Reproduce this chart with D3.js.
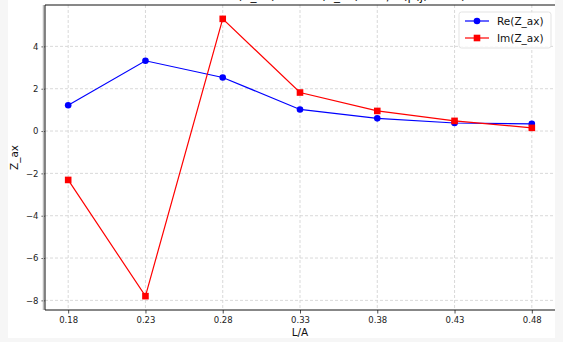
<!DOCTYPE html>
<html>
<head>
<meta charset="utf-8">
<script src="https://cdn.jsdelivr.net/npm/d3@7"></script>
<style>
  body { margin: 0; background: #f6f6f6; }
  svg { display: block; font-family: "DejaVu Sans", sans-serif; }
</style>
</head>
<body>
<div class="viz"></div>
<script>
const ratios = [0.18, 0.23, 0.28, 0.33, 0.38, 0.43, 0.48];
const reZ = [1.22, 3.32, 2.53, 1.02, 0.6, 0.38, 0.34];
const imZ = [-2.31, -7.8, 5.3, 1.82, 0.95, 0.48, 0.15];
const xTicks = ["0.18", "0.23", "0.28", "0.33", "0.38", "0.43", "0.48"];
const yTicks = [-8, -6, -4, -2, 0, 2, 4];
const seriesNames = ["Re(Z_ax)", "Im(Z_ax)"];

var w = 563
var h = 342
// plot box (names avoid window.top)
var pLeft = 45, pRight = 555, pTop = 5, pBottom = 310

// matplotlib style 5% margins
var xmin = d3.min(ratios), xmax = d3.max(ratios)
var xpad = (xmax - xmin) * 0.05
var x = d3.scaleLinear()
  .domain([xmin - xpad, xmax + xpad])
  .range([pLeft, pRight])

var ymin = d3.min(imZ.concat(reZ)), ymax = d3.max(imZ.concat(reZ))
var ypad = (ymax - ymin) * 0.05
var y = d3.scaleLinear()
  .domain([ymin - ypad, ymax + ypad])
  .range([pBottom, pTop])

const svg = d3.select(".viz")
  .append("svg")
  .attr("width", w)
  .attr("height", h)

// white figure area
svg.append("rect")
  .attr("x", 8).attr("y", 0)
  .attr("width", pRight - 8).attr("height", 338)
  .attr("fill", "white")

// title, mostly cut off above the window
svg.append("text")
  .attr("x", 344)
  .attr("y", -0.5)
  .attr("text-anchor", "middle")
  .attr("font-size", 12)
  .attr("fill", "#111")
  .text("Re(Z_ax) and Im(Z_ax) vs L/A (p(j) fixed)")

// grid
svg.append("g").selectAll("line")
  .data(ratios)
  .enter().append("line")
  .attr("x1", d => x(d)).attr("x2", d => x(d))
  .attr("y1", pTop).attr("y2", pBottom)
  .attr("stroke", "#cfcfcf").attr("stroke-dasharray", "3,2").attr("stroke-width", 0.8)
svg.append("g").selectAll("line")
  .data(yTicks)
  .enter().append("line")
  .attr("x1", pLeft).attr("x2", pRight)
  .attr("y1", d => y(d)).attr("y2", d => y(d))
  .attr("stroke", "#cfcfcf").attr("stroke-dasharray", "3,2").attr("stroke-width", 0.8)

// axes
var xAxis = d3.axisBottom(x)
  .tickValues(ratios)
  .tickFormat((d, i) => xTicks[i])
  .tickSize(3.5).tickPadding(3.5)
var gx = svg.append("g")
  .attr("transform", "translate(0," + pBottom + ")")
  .call(xAxis)
gx.select(".domain").remove()

var yAxis = d3.axisLeft(y)
  .tickValues(yTicks)
  .tickFormat(d => d < 0 ? "\u2212" + Math.abs(d) : d)
  .tickSize(3.5).tickPadding(3)
var gy = svg.append("g")
  .attr("transform", "translate(" + pLeft + ",0)")
  .call(yAxis)
gy.select(".domain").remove()

svg.selectAll(".tick text").attr("font-size", 8.5).attr("fill", "#222").attr("font-family", "DejaVu Sans")
svg.selectAll(".tick line").attr("stroke", "#222").attr("stroke-width", 0.8)

// spines (right one is cropped off)
svg.append("line").attr("x1", pLeft - 1.5).attr("x2", pLeft - 1.5).attr("y1", pTop).attr("y2", pBottom)
  .attr("stroke", "#bbb").attr("stroke-width", 1.5)
svg.append("line").attr("x1", pLeft).attr("x2", pLeft).attr("y1", pTop).attr("y2", pBottom)
  .attr("stroke", "#111").attr("stroke-width", 1)
svg.append("line").attr("x1", pLeft).attr("x2", pRight).attr("y1", pTop).attr("y2", pTop)
  .attr("stroke", "#111").attr("stroke-width", 1)
svg.append("line").attr("x1", pLeft).attr("x2", pRight).attr("y1", pBottom).attr("y2", pBottom)
  .attr("stroke", "#111").attr("stroke-width", 1)

// labels
svg.append("text")
  .attr("x", (pLeft + pRight) / 2).attr("y", 336)
  .attr("text-anchor", "middle").attr("font-size", 10.5).attr("fill", "#111")
  .text("L/A")
svg.append("text")
  .attr("transform", "translate(18," + (pTop + pBottom) / 2 + ") rotate(-90)")
  .attr("text-anchor", "middle").attr("font-size", 10.5).attr("fill", "#111")
  .text("Z_ax")

// lines
var line = d3.line()
  .x((d, i) => x(ratios[i]))
  .y(d => y(d))

svg.append("path").datum(reZ)
  .attr("d", line).attr("fill", "none").attr("stroke", "blue").attr("stroke-width", 1.2)
svg.selectAll("circle.re")
  .data(reZ)
  .enter().append("circle")
  .attr("class", "re")
  .attr("cx", (d, i) => x(ratios[i]))
  .attr("cy", d => y(d))
  .attr("r", 3.3)
  .attr("fill", "blue")

svg.append("path").datum(imZ)
  .attr("d", line).attr("fill", "none").attr("stroke", "red").attr("stroke-width", 1.2)
svg.selectAll("rect.im")
  .data(imZ)
  .enter().append("rect")
  .attr("class", "im")
  .attr("x", (d, i) => x(ratios[i]) - 3.3)
  .attr("y", d => y(d) - 3.3)
  .attr("width", 6.6).attr("height", 6.6)
  .attr("fill", "red")

// legend
var lg = svg.append("g").attr("transform", "translate(459,12)")
lg.append("rect")
  .attr("width", 92).attr("height", 36).attr("rx", 2.5)
  .attr("fill", "white").attr("fill-opacity", 0.85)
  .attr("stroke", "#dcdcdc").attr("stroke-width", 0.8)
var colors = ["blue", "red"]
seriesNames.forEach(function (name, i) {
  var yy = 9 + i * 17
  lg.append("line").attr("x1", 6).attr("x2", 30).attr("y1", yy).attr("y2", yy)
    .attr("stroke", colors[i]).attr("stroke-width", 1.2)
  if (i === 0) {
    lg.append("circle").attr("cx", 18).attr("cy", yy).attr("r", 3.3).attr("fill", colors[i])
  } else {
    lg.append("rect").attr("x", 18 - 3.3).attr("y", yy - 3.3).attr("width", 6.6).attr("height", 6.6).attr("fill", colors[i])
  }
  lg.append("text").attr("x", 38).attr("y", yy + 3.8)
    .attr("font-size", 10.5).attr("fill", "#111")
    .text(name)
})
</script>
</body>
</html>
